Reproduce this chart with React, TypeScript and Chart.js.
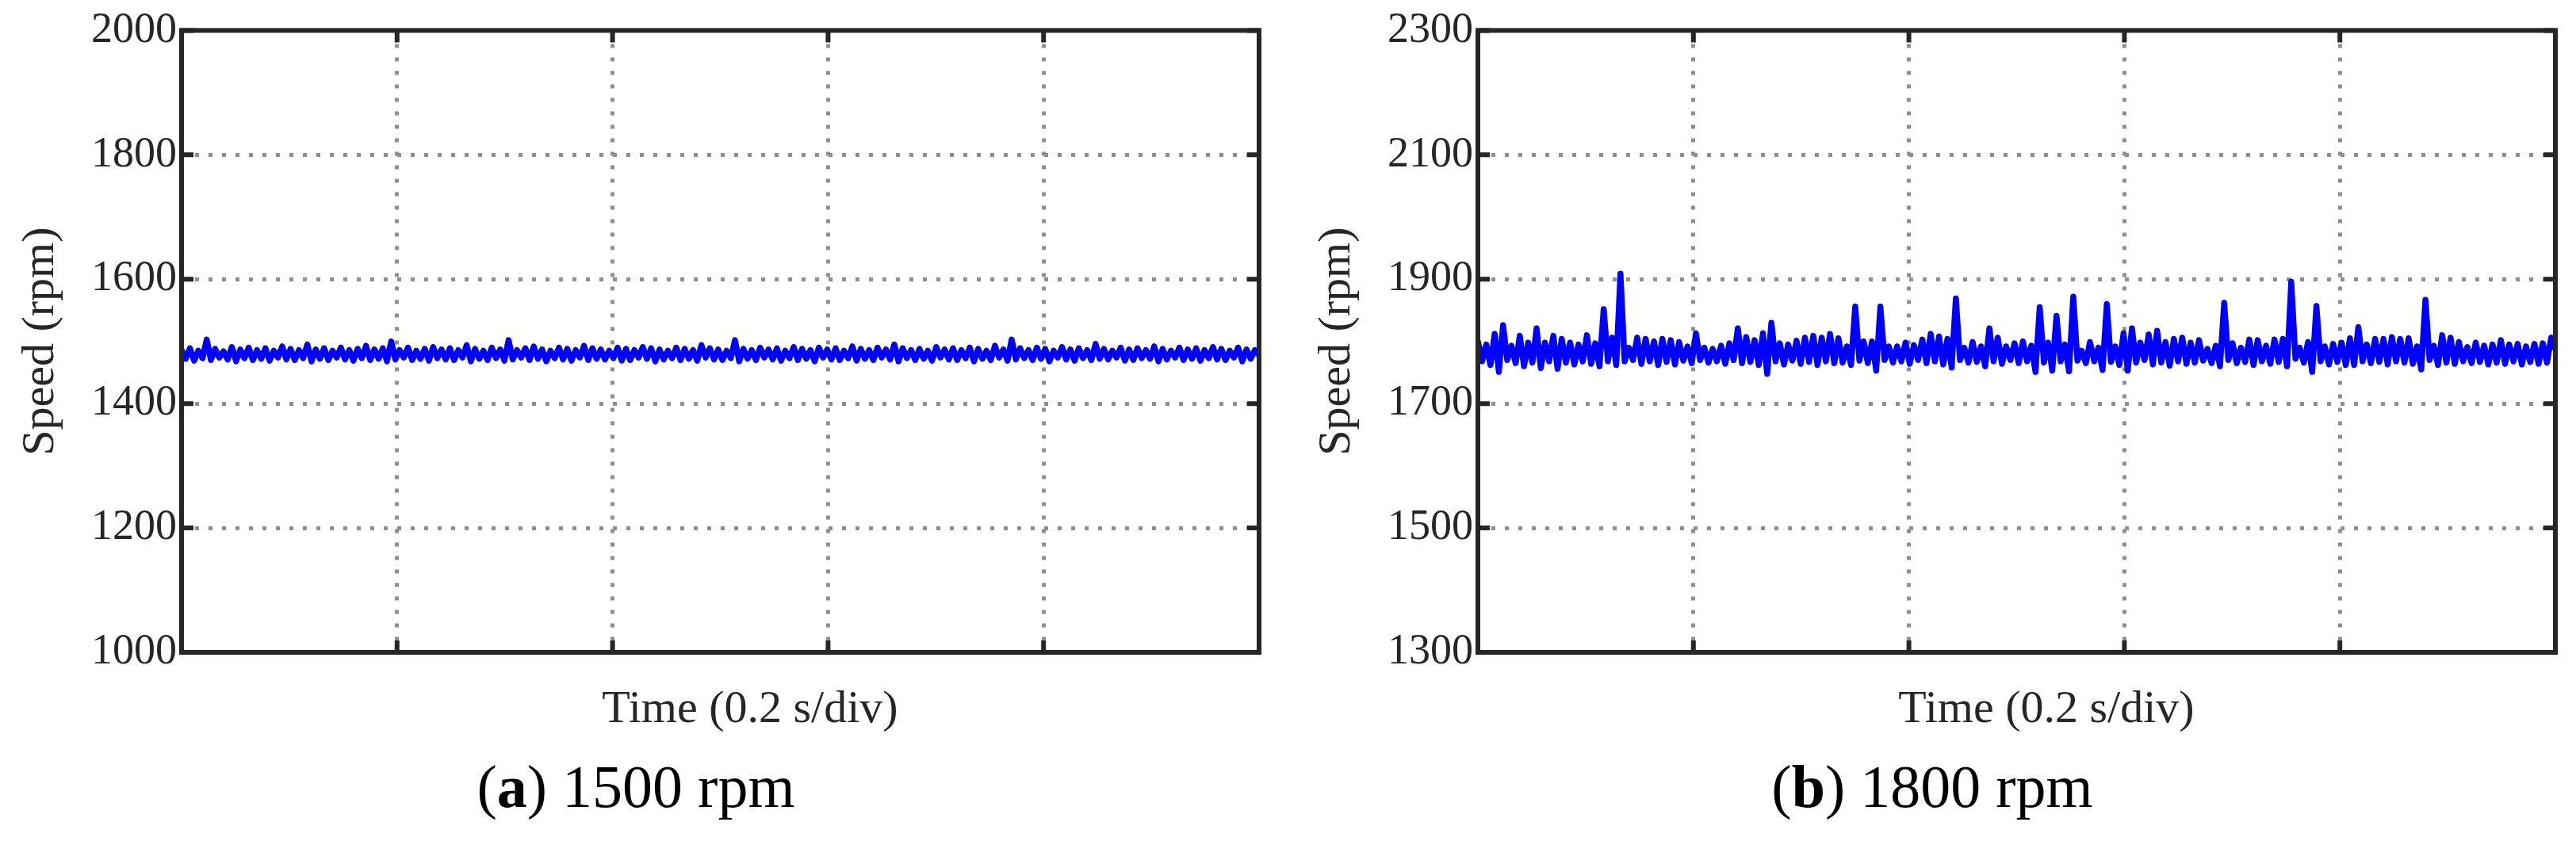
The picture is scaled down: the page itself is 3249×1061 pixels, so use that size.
import React, { useEffect, useRef } from "react";
import { Chart, registerables } from "chart.js";

Chart.register(...registerables);

// ---------- data ----------
const timeTicks = [0, 0.2, 0.4, 0.6, 0.8, 1.0]; // s (0.2 s/div)

const leftYTicks = [1000, 1200, 1400, 1600, 1800, 2000];
const rightYTicks = [1300, 1500, 1700, 1900, 2100, 2300];

// (a) 1500 rpm — local maxima / minima of the measured speed, in order
const leftPeaks = [
  1486, 1489, 1485, 1503, 1488, 1484, 1491, 1487, 1490, 1486,
  1489, 1485, 1492, 1488, 1486, 1495, 1487, 1489, 1485, 1490,
  1486, 1488, 1493, 1487, 1489, 1500, 1486, 1490, 1485, 1488,
  1491, 1487, 1489, 1486, 1494, 1488, 1485, 1490, 1487, 1502,
  1486, 1489, 1492, 1487, 1485, 1490, 1488, 1486, 1493, 1489,
  1487, 1485, 1490, 1488, 1486, 1491, 1489, 1487, 1485, 1490,
  1488, 1486, 1494, 1489, 1487, 1485, 1502, 1488, 1486, 1490,
  1487, 1489, 1485, 1491, 1488, 1486, 1490, 1487, 1489, 1485,
  1492, 1488, 1486, 1490, 1487, 1495, 1489, 1486, 1488, 1485,
  1491, 1487, 1489, 1486, 1490, 1488, 1485, 1493, 1487, 1503,
  1489, 1486, 1490, 1488, 1485, 1491, 1487, 1489, 1486, 1496,
  1488, 1485, 1490, 1487, 1489, 1486, 1492, 1488, 1485, 1490,
  1487, 1489, 1486, 1491, 1488, 1485, 1490, 1487, 1486,
];
const leftTroughs = [
  1472, 1469, 1473, 1470, 1474, 1471, 1468, 1473, 1470, 1472,
  1469, 1474, 1471, 1470, 1473, 1468, 1472, 1470, 1474, 1471,
  1469, 1473, 1470, 1472, 1468, 1471, 1474, 1470, 1472, 1469,
  1473, 1471, 1470, 1474, 1468, 1472, 1470, 1473, 1469, 1471,
  1474, 1470, 1472, 1468, 1473, 1471, 1469, 1474, 1470, 1472,
  1471, 1473, 1469, 1470, 1474, 1472, 1468, 1471, 1473, 1470,
  1472, 1469, 1474, 1471, 1470, 1473, 1468, 1472, 1470, 1474,
  1471, 1469, 1473, 1470, 1472, 1468, 1474, 1471, 1470, 1473,
  1469, 1472, 1470, 1474, 1471, 1468, 1473, 1470, 1472, 1469,
  1474, 1471, 1470, 1473, 1468, 1472, 1470, 1474, 1469, 1471,
  1473, 1470, 1472, 1468, 1474, 1471, 1469, 1473, 1470, 1472,
  1471, 1474, 1469, 1470, 1473, 1472, 1468, 1471, 1474, 1470,
  1472, 1469, 1473, 1471, 1470, 1474, 1468, 1472, 1478,
];

// (b) 1800 rpm
const rightPeaks = [
  1800, 1795, 1812, 1826, 1793, 1809, 1798, 1821, 1798, 1809,
  1804, 1798, 1795, 1810, 1797, 1852, 1806, 1909, 1790, 1806,
  1804, 1800, 1804, 1802, 1799, 1792, 1813, 1790, 1788, 1793,
  1797, 1821, 1807, 1802, 1813, 1830, 1797, 1795, 1801, 1806,
  1809, 1806, 1812, 1805, 1792, 1856, 1800, 1800, 1856, 1792,
  1792, 1798, 1794, 1803, 1812, 1808, 1804, 1869, 1790, 1799,
  1792, 1821, 1806, 1792, 1797, 1800, 1793, 1855, 1798, 1841,
  1795, 1872, 1785, 1799, 1790, 1860, 1792, 1813, 1821, 1798,
  1811, 1817, 1799, 1804, 1806, 1798, 1802, 1788, 1793, 1862,
  1797, 1790, 1803, 1802, 1793, 1803, 1804, 1896, 1790, 1799,
  1857, 1792, 1796, 1798, 1805, 1823, 1795, 1804, 1804, 1807,
  1804, 1805, 1792, 1867, 1793, 1810, 1806, 1799, 1791, 1798,
  1793, 1795, 1802, 1795, 1796, 1792, 1796, 1797, 1806,
];
const rightTroughs = [
  1768, 1762, 1751, 1770, 1765, 1760, 1766, 1757, 1768, 1756,
  1766, 1763, 1768, 1764, 1760, 1768, 1762, 1768, 1770, 1764,
  1768, 1762, 1767, 1763, 1769, 1765, 1770, 1766, 1768, 1764,
  1770, 1765, 1767, 1762, 1748, 1768, 1763, 1769, 1764, 1767,
  1762, 1768, 1765, 1766, 1762, 1769, 1765, 1753, 1770, 1766,
  1768, 1764, 1770, 1765, 1768, 1763, 1758, 1770, 1766, 1767,
  1760, 1768, 1764, 1770, 1765, 1768, 1751, 1766, 1753, 1768,
  1752, 1769, 1765, 1768, 1754, 1767, 1762, 1753, 1766, 1770,
  1763, 1766, 1761, 1768, 1764, 1766, 1769, 1765, 1760, 1770,
  1765, 1767, 1762, 1768, 1764, 1767, 1760, 1772, 1766, 1751,
  1768, 1763, 1767, 1762, 1762, 1768, 1765, 1767, 1763, 1768,
  1766, 1764, 1755, 1770, 1762, 1766, 1764, 1768, 1765, 1767,
  1763, 1766, 1764, 1768, 1763, 1767, 1764, 1766, 1788,
];

// ---------- styling ----------
const AXIS = "#262626";
const GRID = "#8f8f8f";
const SERIF = '"Liberation Serif", "Times New Roman", serif';

function buildPoints(peaks: number[], troughs: number[]) {
  const ys: number[] = [];
  for (let i = 0; i < peaks.length; i++) {
    ys.push(peaks[i]);
    if (i < troughs.length) ys.push(troughs[i]);
  }
  const span = timeTicks[timeTicks.length - 1];
  return ys.map((y, i) => ({ x: (i / (ys.length - 1)) * span, y }));
}

const decorPlugin = {
  id: "decor",
  afterDraw(chart: any, _args: any, opts: any) {
    const { ctx, chartArea } = chart;
    const { left, right, top, bottom } = chartArea;
    const xs = chart.scales.x;
    const ys = chart.scales.y;
    ctx.save();
    // box
    ctx.strokeStyle = AXIS;
    ctx.lineWidth = 6;
    ctx.lineJoin = "miter";
    ctx.strokeRect(left, top, right - left, bottom - top);
    // inward ticks
    const tl = 15;
    ctx.beginPath();
    ys.ticks.forEach((t: any) => {
      const py = ys.getPixelForValue(t.value);
      ctx.moveTo(left, py);
      ctx.lineTo(left + tl, py);
      ctx.moveTo(right, py);
      ctx.lineTo(right - tl, py);
    });
    xs.ticks.forEach((t: any) => {
      const px = xs.getPixelForValue(t.value);
      ctx.moveTo(px, bottom);
      ctx.lineTo(px, bottom - tl);
      ctx.moveTo(px, top);
      ctx.lineTo(px, top + tl);
    });
    ctx.stroke();

    // axis titles
    ctx.fillStyle = AXIS;
    ctx.font = `58px ${SERIF}`;
    ctx.textAlign = "center";
    ctx.textBaseline = "alphabetic";
    ctx.fillText(opts.xTitle, left + 717, 911);

    ctx.save();
    ctx.translate(52, (top + bottom) / 2);
    ctx.rotate(-Math.PI / 2);
    ctx.textBaseline = "middle";
    ctx.fillText(opts.yTitle, 0, 0);
    ctx.restore();

    // caption "(a) 1500 rpm"
    ctx.fillStyle = "#000";
    const normal = `76px ${SERIF}`;
    const bold = `bold 76px ${SERIF}`;
    const parts = [
      { t: "(", f: normal },
      { t: opts.letter, f: bold },
      { t: ") " + opts.caption, f: normal },
    ];
    let total = 0;
    parts.forEach((p) => {
      ctx.font = p.f;
      total += ctx.measureText(p.t).width;
    });
    let cx = left + 573 - total / 2;
    ctx.textAlign = "left";
    parts.forEach((p) => {
      ctx.font = p.f;
      ctx.fillText(p.t, cx, 1018);
      cx += ctx.measureText(p.t).width;
    });
    ctx.restore();
  },
};

type PanelProps = {
  peaks: number[];
  troughs: number[];
  yTicks: number[];
  letter: string;
  caption: string;
  left: number;
  width: number;
};

function SpeedPanel(props: PanelProps) {
  const ref = useRef<HTMLCanvasElement | null>(null);
  useEffect(() => {
    if (!ref.current) return;
    const { peaks, troughs, yTicks, letter, caption, width } = props;
    const chart = new Chart(ref.current, {
      type: "line",
      data: {
        datasets: [
          {
            data: buildPoints(peaks, troughs),
            borderColor: "#0000ff",
            borderWidth: 7.5,
            pointRadius: 0,
            tension: 0,
            fill: false,
            borderJoinStyle: "round",
            borderCapStyle: "round",
          } as any,
        ],
      },
      options: {
        responsive: false,
        animation: false,
        devicePixelRatio: 1,
        events: [],
        layout: {
          padding: { left: 0, top: 38, right: width - 1588, bottom: 1061 - 823 },
        },
        plugins: {
          legend: { display: false },
          tooltip: { enabled: false },
          decor: {
            xTitle: "Time (0.2 s/div)",
            yTitle: "Speed (rpm)",
            letter,
            caption,
          },
        } as any,
        scales: {
          x: {
            type: "linear",
            min: timeTicks[0],
            max: timeTicks[timeTicks.length - 1],
            ticks: { display: false, stepSize: timeTicks[1] - timeTicks[0] },
            grid: { color: GRID, lineWidth: 5, drawTicks: false },
            border: { display: false, dash: [5, 12] },
            afterFit: (s: any) => {
              s.height = 0;
            },
          },
          y: {
            type: "linear",
            min: yTicks[0],
            max: yTicks[yTicks.length - 1],
            ticks: {
              stepSize: yTicks[1] - yTicks[0],
              color: AXIS,
              padding: 6,
              font: { family: SERIF, size: 54 },
              callback: (v: any) => String(v),
            },
            grid: { color: GRID, lineWidth: 5, drawTicks: false },
            border: { display: false, dash: [5, 12] },
            afterFit: (s: any) => {
              s.width = 229;
            },
          },
        },
      } as any,
      plugins: [decorPlugin],
    });
    return () => chart.destroy();
  }, []);
  return (
    <canvas
      ref={ref}
      width={props.width}
      height={1061}
      style={{
        position: "absolute",
        left: props.left,
        top: 0,
        width: props.width,
        height: 1061,
        display: "block",
      }}
    />
  );
}

export default function App() {
  return (
    <div
      style={{
        position: "absolute",
        left: 0,
        top: 0,
        width: 3249,
        height: 1061,
        background: "#fff",
        overflow: "hidden",
      }}
    >
      <SpeedPanel
        peaks={leftPeaks}
        troughs={leftTroughs}
        yTicks={leftYTicks}
        letter="a"
        caption="1500 rpm"
        left={0}
        width={1630}
      />
      <SpeedPanel
        peaks={rightPeaks}
        troughs={rightTroughs}
        yTicks={rightYTicks}
        letter="b"
        caption="1800 rpm"
        left={1635}
        width={1614}
      />
    </div>
  );
}
